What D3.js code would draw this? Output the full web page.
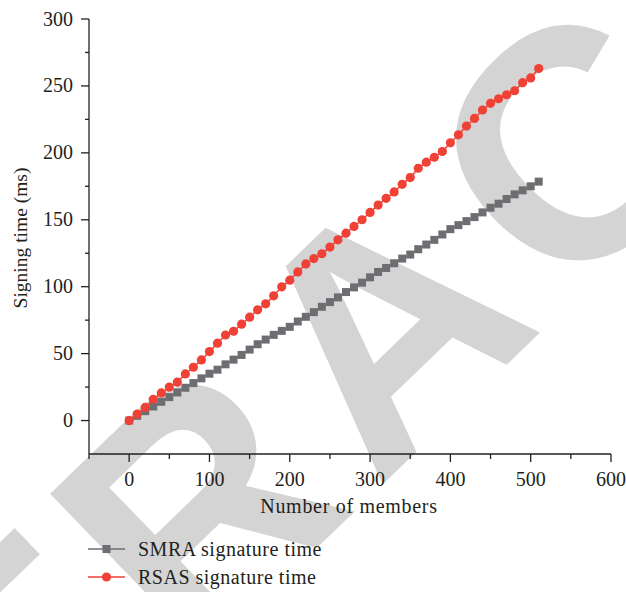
<!DOCTYPE html>
<html>
<head>
<meta charset="utf-8">
<script src="https://cdn.jsdelivr.net/npm/d3@7"></script>
<style>
html,body{margin:0;padding:0;background:#fff;}
svg{display:block;}
</style>
</head>
<body>
<svg id="chart" width="626" height="592"></svg>
<script>
const members = [0,10,20,30,40,50,60,70,80,90,100,110,120,130,140,150,160,170,180,190,200,210,220,230,240,250,260,270,280,290,300,310,320,330,340,350,360,370,380,390,400,410,420,430,440,450,460,470,480,490,500,510];
const smraTime = [0,3.5,7,10.5,14,17.5,21,24.5,28,31.5,35,38,42,45.5,49,53,57,60.5,64,67,70,74,77.5,81,85,88.5,92,96,99.5,103,107,111,114,117.5,121,124,128,131.5,135,139,143,146,149,152,155.5,159,162,165.5,169,172,175,178.5];
const rsasTime = [0,4.8,9.8,15.9,20.6,25,28.7,34.8,39.8,45.3,51.5,57.8,63.9,66.7,72,77.2,82.7,87.2,93.2,99.9,104.9,111,117,121,124.6,129.6,135,140,145,150,155.5,161,166,170.8,176.5,181.5,188.5,193,196.7,201,207.5,213.5,220,225.7,232,237,240.4,243.4,246.4,252.4,256,263];
const xTickLabels = [0,100,200,300,400,500,600];
const yTickLabels = [0,50,100,150,200,250,300];
const seriesNames = ["SMRA signature time","RSAS signature time"];
const watermark = "RETRACTED";

const svg = d3.select("#chart");
const serif = "'Liberation Serif','DejaVu Serif',serif";

// watermark: letters laid out along a rotated baseline, centred on the middle letter
const wm = svg.append("g").attr("transform","translate(383,327) rotate(-44)");
const wmSize = 326, wmGap = 24;
const letters = watermark.split("");
const nodes = letters.map(ch => wm.append("text")
  .attr("font-family","'Liberation Sans',Arial,sans-serif")
  .attr("font-weight","bold").attr("font-size",wmSize)
  .attr("fill","#d4d4d4").attr("text-anchor","middle")
  .attr("dominant-baseline","central").text(ch));
const widths = nodes.map(n => n.node().getComputedTextLength());
const mid = Math.floor(letters.length/2);
const centers = [];
centers[mid] = 0;
for (let i = mid+1; i < letters.length; i++) centers[i] = centers[i-1] + widths[i-1]/2 + wmGap + widths[i]/2;
for (let i = mid-1; i >= 0; i--) centers[i] = centers[i+1] - widths[i+1]/2 - wmGap - widths[i]/2;
nodes.forEach((n,i) => n.attr("x", centers[i]).attr("y", 0));

const x = d3.scaleLinear().domain([-50,600]).range([89,611]);
const y = d3.scaleLinear().domain([-25,300]).range([454,19]);

const axisColor = "#231f20";
const fs = 20;

// X axis
const gx = svg.append("g").attr("transform","translate(0,454)");
gx.append("line").attr("x1",x(-50)).attr("x2",x(600)).attr("stroke",axisColor).attr("stroke-width",1.3);
const xMinor = d3.range(-50,600,100);
gx.selectAll(".xmin").data(xMinor).enter().append("line")
  .attr("x1",d=>x(d)).attr("x2",d=>x(d)).attr("y1",0).attr("y2",5)
  .attr("stroke",axisColor).attr("stroke-width",1.3);
gx.selectAll(".xmaj").data(xTickLabels).enter().append("line")
  .attr("x1",d=>x(d)).attr("x2",d=>x(d)).attr("y1",0).attr("y2",8)
  .attr("stroke",axisColor).attr("stroke-width",1.3);
gx.selectAll(".xlab").data(xTickLabels).enter().append("text")
  .attr("x",d=>x(d)).attr("y",32)
  .attr("text-anchor","middle")
  .attr("font-family",serif).attr("font-size",fs).attr("fill",axisColor)
  .text(d=>d);

// Y axis
const gy = svg.append("g").attr("transform","translate(89,0)");
gy.append("line").attr("y1",y(-25)).attr("y2",y(300)).attr("stroke",axisColor).attr("stroke-width",1.3);
const yMinor = d3.range(25,300,50);
gy.selectAll(".ymin").data(yMinor).enter().append("line")
  .attr("y1",d=>y(d)).attr("y2",d=>y(d)).attr("x1",0).attr("x2",-4)
  .attr("stroke",axisColor).attr("stroke-width",1.3);
gy.selectAll(".ymaj").data(yTickLabels).enter().append("line")
  .attr("y1",d=>y(d)).attr("y2",d=>y(d)).attr("x1",0).attr("x2",-8)
  .attr("stroke",axisColor).attr("stroke-width",1.3);
gy.selectAll(".ylab").data(yTickLabels).enter().append("text")
  .attr("x",-16).attr("y",d=>y(d)+6.5)
  .attr("text-anchor","end")
  .attr("font-family",serif).attr("font-size",fs).attr("fill",axisColor)
  .text(d=>d);

// Titles
svg.append("text").attr("x",349).attr("y",513).attr("text-anchor","middle")
  .attr("font-family",serif).attr("font-size",fs).attr("letter-spacing",0.7).attr("fill",axisColor)
  .text("Number of members");
svg.append("text").attr("transform","translate(27,238) rotate(-90)").attr("text-anchor","middle")
  .attr("font-family",serif).attr("font-size",19.5).attr("fill",axisColor)
  .text("Signing time (ms)");

const grayC = "#6d6e71", redC = "#ef4136";
const line = d3.line().x(d=>x(d[0])).y(d=>y(d[1]));
const smra = members.map((m,i)=>[m,smraTime[i]]);
const rsas = members.map((m,i)=>[m,rsasTime[i]]);

svg.append("path").datum(smra).attr("d",line).attr("fill","none").attr("stroke",grayC).attr("stroke-width",1.5);
svg.selectAll(".sq").data(smra).enter().append("rect")
  .attr("x",d=>x(d[0])-4).attr("y",d=>y(d[1])-4).attr("width",8).attr("height",8).attr("fill",grayC);

svg.append("path").datum(rsas).attr("d",line).attr("fill","none").attr("stroke",redC).attr("stroke-width",1.5);
svg.selectAll(".ci").data(rsas).enter().append("circle")
  .attr("cx",d=>x(d[0])).attr("cy",d=>y(d[1])).attr("r",4.6).attr("fill",redC);

// Legend
const lg = svg.append("g");
const legY = [549,577];
const legC = [grayC, redC];
lg.selectAll(".ll").data(legY).enter().append("line")
  .attr("x1",88).attr("x2",125).attr("y1",d=>d).attr("y2",d=>d)
  .attr("stroke",(d,i)=>legC[i]).attr("stroke-width",1.5);
lg.append("rect").attr("x",106.5-4).attr("y",legY[0]-4).attr("width",8).attr("height",8).attr("fill",grayC);
lg.append("circle").attr("cx",106.5).attr("cy",legY[1]).attr("r",4.6).attr("fill",redC);
lg.selectAll(".lt").data(seriesNames).enter().append("text")
  .attr("x",138).attr("y",(d,i)=>legY[i]+6.5)
  .attr("font-family",serif).attr("font-size",fs).attr("letter-spacing",0.5).attr("fill",axisColor)
  .text(d=>d);
</script>
</body>
</html>
